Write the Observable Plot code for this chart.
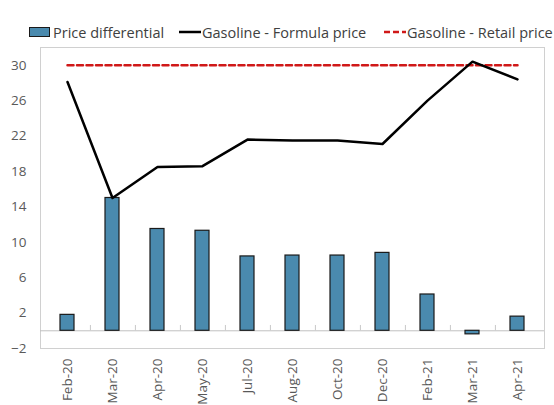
<!DOCTYPE html>
<html>
<head>
<meta charset="utf-8">
<script src="https://cdn.jsdelivr.net/npm/d3@7"></script>
<script src="https://cdn.jsdelivr.net/npm/@observablehq/plot@0.6"></script>
<style>
  html, body { margin: 0; padding: 0; background: #fff; }
  body { width: 554px; height: 405px; overflow: hidden; font-family: "Open Sans", sans-serif; }
  #legend { position: relative; height: 40px; font-size: 14.5px; color: #404040; }
  .item { position: absolute; top: 22px; height: 20px; display: flex; align-items: center; white-space: nowrap; }
  .sw { display: inline-block; margin-right: 1px; }
</style>
</head>
<body>
<div id="legend">
  <div class="item" style="left:29px"><span class="sw" style="width:19px;height:8px;background:#4a8aae;border:1px solid #1a1a1a;margin-right:3px"></span>Price differential</div>
  <div class="item" style="left:179px"><svg class="sw" width="22" height="4"><line x1="0" y1="2" x2="22" y2="2" stroke="#000" stroke-width="2.5"/></svg>Gasoline - Formula price</div>
  <div class="item" style="left:384px"><svg class="sw" width="22" height="4"><line x1="0" y1="2" x2="22" y2="2" stroke="#d01818" stroke-width="2.5" stroke-dasharray="6,3"/></svg>Gasoline - Retail price</div>
</div>
<div id="chart"></div>
<script>
const months = ["Feb-20","Mar-20","Apr-20","May-20","Jul-20","Aug-20","Oct-20","Dec-20","Feb-21","Mar-21","Apr-21"];
const priceDifferential = [1.8, 15.0, 11.5, 11.3, 8.4, 8.5, 8.5, 8.8, 4.1, -0.4, 1.6];
const formulaPrice = [28.1, 15.0, 18.5, 18.6, 21.6, 21.5, 21.5, 21.1, 26.0, 30.4, 28.4];
const retailPrice = [30, 30, 30, 30, 30, 30, 30, 30, 30, 30, 30];
const yTicks = [-2, 2, 6, 10, 14, 18, 22, 26, 30];

const data = months.map((m, i) => ({month: m, diff: priceDifferential[i], formula: formulaPrice[i], retail: retailPrice[i]}));

const width = 554, marginLeft = 40, marginRight = 10;
const step = (width - marginLeft - marginRight) / months.length;

const chart = Plot.plot({
  width,
  height: 365,
  marginTop: 7,
  marginBottom: 57,
  marginLeft,
  marginRight,
  style: {fontFamily: "Open Sans, sans-serif", fontSize: "13px", color: "#595959", background: "#fff"},
  x: {domain: months, type: "band", paddingInner: 0.68, paddingOuter: 0.34, label: null},
  y: {domain: [-2, 32], label: null},
  marks: [
    Plot.frame({stroke: "#d0d0d0"}),
    Plot.axisY({ticks: yTicks, tickSize: 0, tickPadding: 14, fontSize: 13.5, fill: "#595959"}),
    Plot.axisX({tickSize: 0, tickRotate: -90, tickPadding: 10, fontSize: 13.5, fill: "#595959"}),
    Plot.ruleY([0], {stroke: "#c0c0c0", strokeWidth: 1}),
    Plot.ruleX(months.slice(0, -1), {x: d => d, y1: 0, y2: 0.6, dx: step / 2, stroke: "#c8c8c8"}),
    Plot.barY(data, {x: "month", y: "diff", fill: "#4a8aae", stroke: "#1a1a1a", strokeWidth: 1.2}),
    Plot.line(data, {x: "month", y: "retail", stroke: "#d01818", strokeWidth: 2.5, strokeDasharray: "6,3.5"}),
    Plot.line(data, {x: "month", y: "formula", stroke: "#000", strokeWidth: 2.5})
  ]
});
document.getElementById("chart").appendChild(chart);
</script>
</body>
</html>
